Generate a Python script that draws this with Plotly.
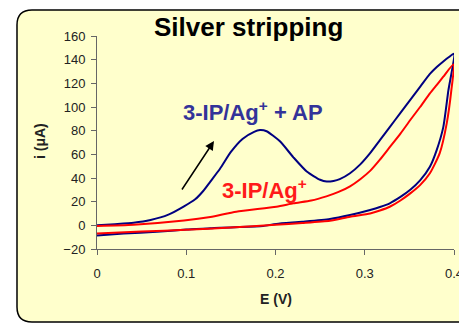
import plotly.graph_objects as go

# ---- data ----
blue_E = [0.000, 0.020, 0.041, 0.060, 0.080, 0.0975, 0.110, 0.119, 0.127, 0.138, 0.150, 0.163,
          0.176, 0.1826, 0.190, 0.205, 0.220, 0.235, 0.250, 0.2574, 0.265, 0.272, 0.2835, 0.295,
          0.306, 0.317, 0.328, 0.340, 0.351, 0.362, 0.373, 0.381, 0.388, 0.394, 0.400,
          0.3937, 0.388, 0.3806, 0.373, 0.362, 0.351, 0.340, 0.328, 0.317, 0.306, 0.2835,
          0.261, 0.230, 0.201, 0.186, 0.160, 0.138, 0.127, 0.100, 0.067, 0.030, 0.000]
blue_i = [0.0, 1.0, 2.2, 4.5, 9.0, 16.0, 22.0, 29.0, 37.0, 48.0, 62.0, 73.0,
          79.0, 80.5, 79.5, 71.0, 57.5, 45.5, 38.5, 37.0, 37.5, 39.0, 44.0, 51.5,
          61.0, 72.0, 83.0, 95.0, 106.0, 117.0, 128.0, 134.0, 138.5, 142.0, 145.0,
          114.0, 83.0, 63.6, 49.5, 38.0, 30.0, 24.0, 18.6, 15.5, 13.0, 8.7,
          5.3, 3.0, 1.2, -0.5, -1.5, -2.0, -2.5, -3.5, -5.5, -7.0, -8.5]

red_E = [0.000, 0.041, 0.0975, 0.127, 0.156, 0.201, 0.220, 0.240, 0.257, 0.270, 0.2835, 0.295,
         0.306, 0.317, 0.328, 0.340, 0.351, 0.362, 0.373, 0.381, 0.388, 0.3995,
         0.397, 0.3918, 0.384, 0.373, 0.362, 0.351, 0.340, 0.328, 0.317, 0.306, 0.2835, 0.261,
         0.230, 0.200, 0.150, 0.100, 0.050, 0.000]
red_i = [-0.5, 0.5, 4.0, 7.0, 11.5, 15.7, 18.6, 21.0, 24.5, 28.0, 33.0, 39.0,
         46.0, 55.5, 66.0, 77.5, 89.0, 100.0, 111.5, 119.0, 125.6, 136.0,
         114.0, 86.0, 61.0, 44.0, 34.0, 27.0, 21.0, 15.7, 12.5, 10.0, 7.3, 3.9,
         2.0, 0.5, -1.8, -3.8, -5.2, -6.8]

x_ticks = [0, 0.1, 0.2, 0.3, 0.4]
x_tick_labels = ["0", "0.1", "0.2", "0.3", "0.4"]
y_ticks = [-20, 0, 20, 40, 60, 80, 100, 120, 140, 160]

title_text = "Silver stripping"
label_blue = "3-IP/Ag<sup>+</sup> + AP"
label_red = "3-IP/Ag<sup>+</sup>"
x_title = "E (V)"
y_title = "i (μA)"

FONT = "Liberation Sans, Arial, sans-serif"

fig = go.Figure()
fig.add_trace(go.Scatter(x=blue_E, y=blue_i, mode="lines",
                         line=dict(color="#000080", width=2, shape="spline", smoothing=0.6),
                         showlegend=False))
fig.add_trace(go.Scatter(x=red_E, y=red_i, mode="lines",
                         line=dict(color="#FF0000", width=2, shape="spline", smoothing=0.6),
                         showlegend=False))

# rounded yellow panel behind the chart (paper coords)
x0, x1 = -0.2241, 1.08
yt, yb = 1.1221, -0.3427
rx, ry = 0.042, 0.0704
path = (f"M {x0+rx},{yt} L {x1},{yt} L {x1},{yb} L {x0+rx},{yb} "
        f"Q {x0},{yb} {x0},{yb+ry} L {x0},{yt-ry} Q {x0},{yt} {x0+rx},{yt} Z")
fig.add_shape(type="path", path=path, xref="paper", yref="paper",
              fillcolor="#FFFFCC", line=dict(color="black", width=1.5), layer="below")

ann = []
ann.append(dict(text=f"<b>{title_text}</b>", xref="paper", yref="paper", x=0.425, y=1.042,
                xanchor="center", yanchor="middle", showarrow=False,
                font=dict(family=FONT, size=26, color="black")))
# curve labels
ann.append(dict(text=f"<b>{label_blue}</b>", x=0.175, y=97, xanchor="center", yanchor="middle",
                showarrow=False, font=dict(family=FONT, size=22, color="#333399")))
ann.append(dict(text=f"<b>{label_red}</b>", x=0.1875, y=31, xanchor="center", yanchor="middle",
                showarrow=False, font=dict(family=FONT, size=22, color="#FF1A1A")))
# arrow
ann.append(dict(text="", x=0.1311, y=71.2, ax=0.0941, ay=29, axref="x", ayref="y",
                showarrow=True, arrowhead=2, arrowsize=1.2, arrowwidth=1.5, arrowcolor="black"))
# axis titles
ann.append(dict(text=f"<b>{x_title}</b>", xref="paper", yref="paper", x=(276-97)/357,
                y=(249-299)/213, xanchor="center", yanchor="middle", showarrow=False,
                font=dict(family=FONT, size=14, color="#222")))
ann.append(dict(text=f"<b>{y_title}</b>", xref="paper", yref="paper", x=(40-97)/357,
                y=(249-141)/213, xanchor="center", yanchor="middle", showarrow=False,
                textangle=-90, font=dict(family=FONT, size=14, color="#222")))

fig.update_layout(
    width=459, height=323, autosize=False,
    margin=dict(l=97, r=5, t=36, b=74),
    paper_bgcolor="white", plot_bgcolor="rgba(0,0,0,0)",
    annotations=ann,
    font=dict(family=FONT, size=13, color="#222"),
)
fig.update_xaxes(range=[0, 0.4], tickvals=x_ticks, ticktext=x_tick_labels, automargin=False,
                 showgrid=False, zeroline=False, showline=True, linecolor="#666", linewidth=1,
                 ticks="outside", ticklen=5, tickcolor="#666", ticklabelstandoff=7,
                 ticklabeloverflow="allow", tickfont=dict(family=FONT, size=13, color="#222"))
fig.update_yaxes(range=[-20, 160], tickvals=y_ticks, automargin=False,
                 showgrid=False, zeroline=False, showline=True, linecolor="#666", linewidth=1,
                 ticks="outside", ticklen=5, tickcolor="#666", ticklabelstandoff=3,
                 tickfont=dict(family=FONT, size=13, color="#222"))

fig.write_html("out.html", config={"displayModeBar": False},
               post_script="document.body.style.margin='0';document.body.style.overflow='hidden';")
